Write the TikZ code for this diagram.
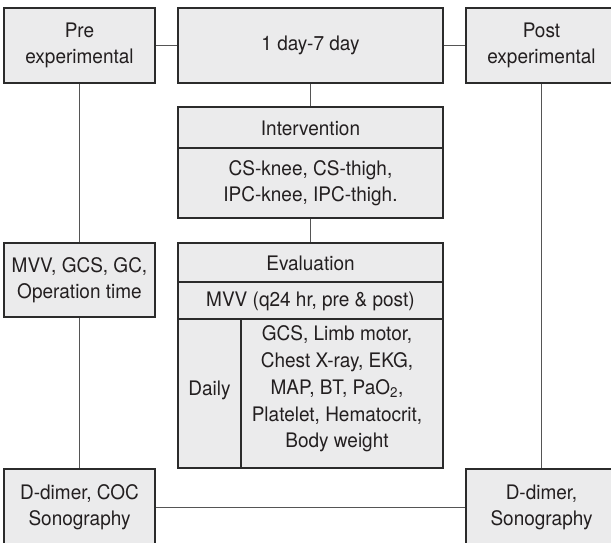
\documentclass[tikz,border=0pt]{standalone}
\usepackage{fontspec}
\setmainfont{TeX Gyre Heros}[FakeStretch=0.95]
\definecolor{boxfill}{HTML}{EBEBEC}
\definecolor{boxline}{HTML}{2B2B2B}
\definecolor{connline}{HTML}{555555}
\definecolor{textcol}{HTML}{231F20}
\begin{document}
\begin{tikzpicture}[x=1pt,y=-1pt,
  box/.style={draw=boxline, fill=boxfill, line width=1.3pt, inner sep=0pt,
    align=center, font=\fontsize{20}{26}\selectfont, text=textcol},
  conn/.style={draw=connline, line width=1pt},
  divider/.style={draw=boxline, line width=1.1pt},
  txt/.style={align=center, font=\fontsize{20}{26}\selectfont, text=textcol, inner sep=0pt}]
\useasboundingbox (0,0) rectangle (611,543);
\clip (0,0) rectangle (611,543);
% top row
\node[box, minimum width=151pt, minimum height=75pt] (pre) at (79.5,45.5) {Pre\\experimental};
\node[box, minimum width=265pt, minimum height=75pt] (day) at (310.5,45.5) {1 day-7 day};
\node[box, minimum width=151pt, minimum height=75pt] (post) at (541.5,45.5) {Post\\experimental};
% intervention
\node[box, minimum width=265pt, minimum height=111pt] (interv) at (310.5,162.5) {};
\coordinate (h1) at (0,148);
\draw[divider] (interv.west |- h1) -- (interv.east |- h1);
\node[txt] (intervhead) at (310.5,128) {Intervention};
\node[txt] (intervbody) at (310.5,183) {CS-knee, CS-thigh,\\IPC-knee, IPC-thigh.};
% evaluation
\node[box, minimum width=265pt, minimum height=225pt] (eval) at (310.5,355.5) {};
\coordinate (h2) at (0,282);
\coordinate (h3) at (0,319);
\coordinate (v1) at (241,0);
\draw[divider] (eval.west |- h2) -- (eval.east |- h2);
\draw[divider] (eval.west |- h3) -- (eval.east |- h3);
\draw[divider] (v1 |- h3) -- (v1 |- eval.south);
\node[txt] (evalhead) at (310.5,263) {Evaluation};
\node[txt] (evalmvv) at (310.5,301) {MVV (q24 hr, pre \& post)};
\node[txt] (daily) at (209.5,390) {Daily};
\node[txt, font=\fontsize{20}{26.75}\selectfont] (dailylist) at (337,389) {GCS, Limb motor,\\Chest X-ray, EKG,\\MAP, BT, PaO\textsubscript{2},\\Platelet, Hematocrit,\\Body weight};
% left column
\node[box, minimum width=151pt, minimum height=74pt] (mvv) at (79.5,280) {MVV, GCS, GC,\\Operation time};
\node[box, minimum width=151pt, minimum height=76pt] (ddl) at (79.5,507) {D-dimer, COC\\Sonography};
% right column
\node[box, minimum width=151pt, minimum height=76pt] (ddr) at (541.5,507) {D-dimer,\\Sonography};
% connectors
\draw[conn] (pre.east) -- (day.west);
\draw[conn] (day.east) -- (post.west);
\draw[conn] (day.south) -- (interv.north);
\draw[conn] (interv.south) -- (eval.north);
\draw[conn] (pre.south) -- (mvv.north);
\draw[conn] (mvv.south) -- (ddl.north);
\draw[conn] (post.south) -- (ddr.north);
\draw[conn] (ddl.east) -- (ddr.west);
\end{tikzpicture}
\end{document}
